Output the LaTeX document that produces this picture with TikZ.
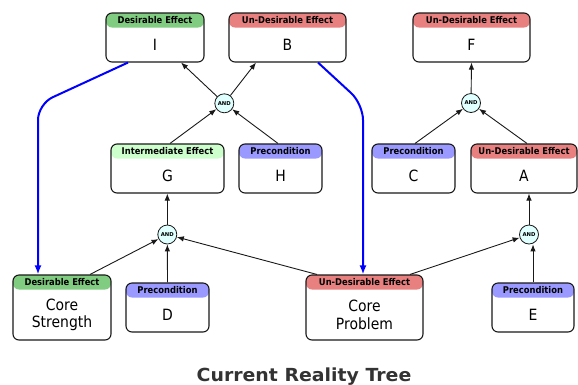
\documentclass[tikz,border=0pt]{standalone}
\usepackage{fontspec}
\setmainfont{DejaVu Sans}
\newfontfamily\hdrfont{DejaVu Sans}[FakeStretch=0.9]
\newfontfamily\bodyfnt{DejaVu Sans}[FakeStretch=0.9]
\newfontfamily\titlefnt{DejaVu Sans}[FakeStretch=1.05]
\usetikzlibrary{arrows.meta,calc}
\definecolor{desgreen}{HTML}{80CC80}
\definecolor{undred}{HTML}{E88080}
\definecolor{intgreen}{HTML}{CCFFCC}
\definecolor{preblue}{HTML}{9999FF}
\definecolor{andfill}{HTML}{E0FFFF}
\definecolor{titlegray}{HTML}{333333}
\tikzset{
  crtbox/.style={draw=black!90, line width=1.1pt, rounded corners=6pt, fill=white, inner sep=0pt},
  hdr/.style={path picture={\fill[#1] (path picture bounding box.north west) rectangle ([yshift=-14.5pt]path picture bounding box.north east);}},
  hdrtext/.style={font=\hdrfont\bfseries\fontsize{9.3}{10}\selectfont, inner sep=0pt, anchor=base},
  bodytxt/.style={font=\bodyfnt\fontsize{15.5}{17.5}\selectfont, inner sep=0pt, align=center},
  andn/.style={circle, draw=black!90, fill=andfill, minimum size=19pt, inner sep=0pt, line width=0.8pt, font=\bfseries\fontsize{5.3}{5.3}\selectfont},
  arr/.style={draw=black!90, line width=0.9pt, -{Latex[length=7pt,width=5.5pt]}},
  bluearr/.style={draw=blue, line width=2pt, rounded corners=16pt, -{Latex[length=9pt,width=7pt]}}
}
\newcommand\crtbox[8]{%
  \node[crtbox, minimum width=#4pt, minimum height=#5pt, hdr=#6] (#1) at (#2,#3) {};
  \node[hdrtext] (#1-h) at ([yshift=-11pt]#1.north) {#7};
  \node[bodytxt] (#1-b) at ($(#1.south)!0.5!([yshift=-14.5pt]#1.north)$) {#8};
}
\begin{document}
\begin{tikzpicture}[x=1pt,y=-1pt]
\useasboundingbox (0,0) rectangle (578,384);
% boxes
\crtbox{I}{155}{37.5}{98}{49}{desgreen}{Desirable Effect}{I}
\crtbox{B}{287.5}{37.5}{117}{49}{undred}{Un-Desirable Effect}{B}
\crtbox{F}{471.5}{37.5}{117}{49}{undred}{Un-Desirable Effect}{F}
\crtbox{G}{167.5}{168.5}{113}{49}{intgreen}{Intermediate Effect}{G}
\crtbox{H}{280.5}{168.5}{83}{49}{preblue}{Precondition}{H}
\crtbox{C}{413.5}{168.5}{83}{49}{preblue}{Precondition}{C}
\crtbox{A}{524}{168.5}{106}{49}{undred}{Un-Desirable Effect}{A}
\crtbox{CS}{62}{307.5}{98}{65}{desgreen}{Desirable Effect}{Core\\Strength}
\crtbox{D}{167.5}{307.5}{83}{49}{preblue}{Precondition}{D}
\crtbox{CP}{364.5}{307.5}{117}{65}{undred}{Un-Desirable Effect}{Core\\Problem}
\crtbox{E}{533}{307.5}{82}{49}{preblue}{Precondition}{E}
% AND nodes
\node[andn] (and1) at (224.3,103.3) {AND};
\node[andn] (andF) at (471,103) {AND};
\node[andn] (andG) at (167.3,234.5) {AND};
\node[andn] (andA) at (529,234.5) {AND};
% connectors
\draw[arr] (and1) -- ([xshift=26pt]I.south);
\draw[arr] (and1) -- ([xshift=-31.5pt]B.south);
\draw[arr] ([xshift=2.5pt]G.north) -- (and1);
\draw[arr] ([xshift=-2.5pt]H.north) -- (and1);
\draw[arr] (andF) -- (F.south);
\draw[arr] ([xshift=1.5pt]C.north) -- (andF);
\draw[arr] ([xshift=3pt]A.north) -- (andF);
\draw[arr] (andG) -- (andG |- G.south);
\draw[arr] ([xshift=28pt]CS.north) -- (andG);
\draw[arr] (D.north) -- (andG);
\draw[arr] ([xshift=-47.5pt]CP.north) -- (andG);
\draw[arr] (andA) -- (andA |- A.south);
\draw[arr] ([xshift=45.5pt]CP.north) -- (andA);
\draw[arr] (E.north) -- (E.north |- andA.south);
% blue links
\coordinate (bl1) at (38,104);
\coordinate (br1) at (363,104);
\draw[bluearr] ([xshift=-27pt]I.south) -- (bl1) -- (bl1 |- CS.north);
\draw[bluearr] ([xshift=30.5pt]B.south) -- (br1) -- (br1 |- CP.north);
% title
\node[font=\titlefnt\bfseries\fontsize{18}{20}\selectfont, text=titlegray, anchor=base, inner sep=0pt] (title) at (304,381) {Current Reality Tree};
\end{tikzpicture}
\end{document}
